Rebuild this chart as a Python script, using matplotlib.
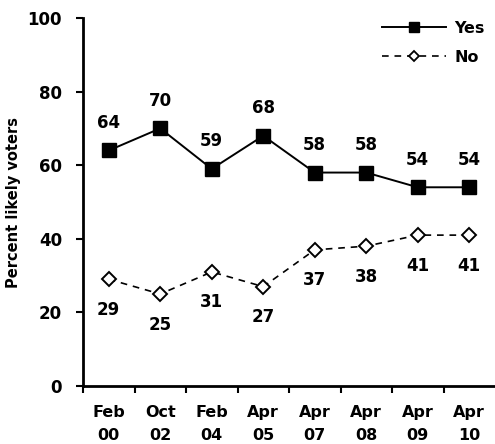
import matplotlib
matplotlib.use("Agg")
import matplotlib.pyplot as plt
from matplotlib.lines import Line2D
import numpy as np

categories = ["Feb\n00", "Oct\n02", "Feb\n04", "Apr\n05", "Apr\n07", "Apr\n08", "Apr\n09", "Apr\n10"]
yes_values = [64, 70, 59, 68, 58, 58, 54, 54]
no_values = [29, 25, 31, 27, 37, 38, 41, 41]

plt.rcParams["font.family"] = "DejaVu Sans"
plt.rcParams["font.weight"] = "bold"

fig = plt.figure(figsize=(4.95, 4.44), dpi=100)
ax = fig.add_axes([83 / 495, 58 / 444, 412 / 495, 368 / 444])

x = np.arange(len(categories))
ax.plot(x, yes_values, color="black", lw=1.4, marker="s", ms=10.5,
        mfc="black", mec="black", clip_on=False)
ax.plot(x, no_values, color="black", lw=1.2, ls=(0, (4, 3.5)), marker="D", ms=7.5,
        mfc="white", mec="black", mew=1.4, clip_on=False)

for xi, v in zip(x, yes_values):
    ax.annotate(str(v), (xi, v), xytext=(0, 20), textcoords="offset points",
                ha="center", va="center", fontsize=12, fontweight="bold")
for xi, v in zip(x, no_values):
    ax.annotate(str(v), (xi, v), xytext=(0, -22), textcoords="offset points",
                ha="center", va="center", fontsize=12, fontweight="bold")

ax.set_xlim(-0.5, len(categories) - 0.5)
ax.set_ylim(0, 100)
ax.set_yticks([0, 20, 40, 60, 80, 100])
ax.set_xticks(x)
ax.set_xticklabels(categories, fontsize=11.5, fontweight="bold", linespacing=1.6)
ax.set_xticks(np.arange(len(categories)) - 0.5, minor=True)
ax.tick_params(axis="x", which="major", length=0, pad=14)
ax.tick_params(axis="x", which="minor", length=5, width=1.5, direction="out")
ax.tick_params(axis="y", length=5, width=1.5, direction="out", labelsize=12, pad=10)
for lbl in ax.get_yticklabels():
    lbl.set_fontweight("bold")

for s in ["top", "right"]:
    ax.spines[s].set_visible(False)
for s in ["left", "bottom"]:
    ax.spines[s].set_linewidth(2)

ax.set_ylabel("Percent likely voters", fontsize=10.5, fontweight="bold", labelpad=5)

handles = [
    Line2D([], [], color="black", lw=1.4, marker="s", ms=7.5, mfc="black", mec="black"),
    Line2D([], [], color="black", lw=1.2, ls=(0, (4, 3.5)), marker="D", ms=5.5,
           mfc="white", mec="black", mew=1.3),
]
leg = ax.legend(handles, ["Yes", "No"], loc="upper right", bbox_to_anchor=(1.0, 1.02),
                frameon=False, fontsize=11.5, handlelength=4.0, handletextpad=0.5,
                labelspacing=0.85, borderaxespad=0.25)
for t in leg.get_texts():
    t.set_fontweight("bold")

fig.savefig("out.png", dpi=100)
